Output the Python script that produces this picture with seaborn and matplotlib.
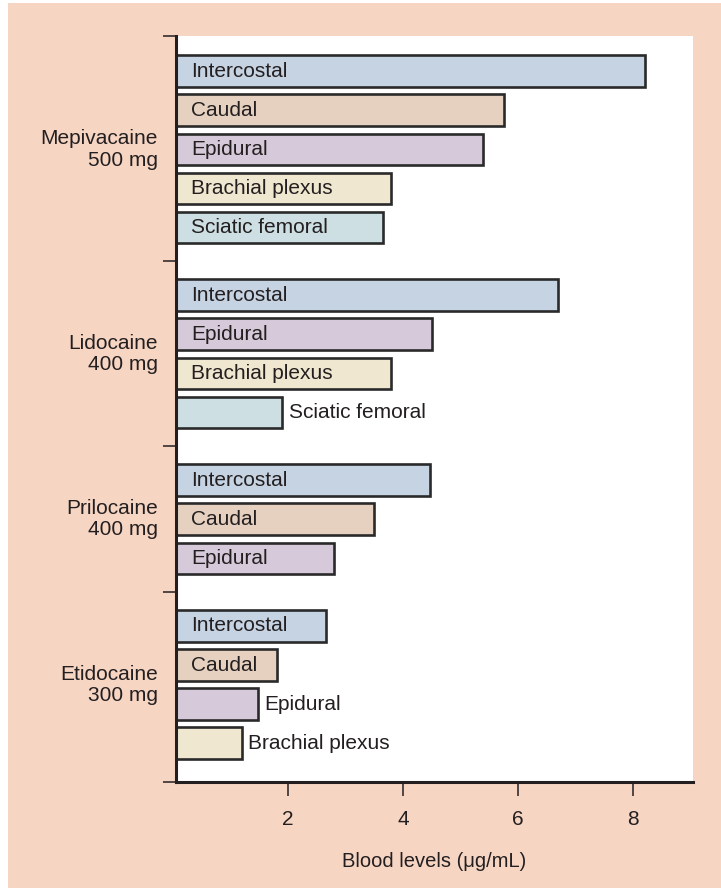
import matplotlib
matplotlib.use("Agg")
import matplotlib.pyplot as plt
import matplotlib.transforms as mtransforms
from matplotlib.patches import Rectangle
import seaborn as sns
import pandas as pd

# ---------------- data ----------------
drugs = ["Mepivacaine\n500 mg", "Lidocaine\n400 mg", "Prilocaine\n400 mg", "Etidocaine\n300 mg"]

mepivacaine_routes = ["Intercostal", "Caudal", "Epidural", "Brachial plexus", "Sciatic femoral"]
mepivacaine_levels = [8.2, 5.76, 5.38, 3.79, 3.65]

lidocaine_routes = ["Intercostal", "Epidural", "Brachial plexus", "Sciatic femoral"]
lidocaine_levels = [6.7, 4.5, 3.79, 1.9]

prilocaine_routes = ["Intercostal", "Caudal", "Epidural"]
prilocaine_levels = [4.46, 3.5, 2.8]

etidocaine_routes = ["Intercostal", "Caudal", "Epidural", "Brachial plexus"]
etidocaine_levels = [2.66, 1.81, 1.48, 1.2]

x_ticks = [2, 4, 6, 8]
x_label = "Blood levels (\u03bcg/mL)"

route_colors = {
    "Intercostal": "#C1D3E8",
    "Caudal": "#ECD0BA",
    "Epidural": "#D8C6DC",
    "Brachial plexus": "#F4EACA",
    "Sciatic femoral": "#C9E2E6",
}

groups = [
    (drugs[0], mepivacaine_routes, mepivacaine_levels),
    (drugs[1], lidocaine_routes, lidocaine_levels),
    (drugs[2], prilocaine_routes, prilocaine_levels),
    (drugs[3], etidocaine_routes, etidocaine_levels),
]

# ---------------- layout of rows ----------------
GROUP_GAP = 0.73
rows = []
pos = 0.0
separators = []
for gi, (drug, routes, levels) in enumerate(groups):
    if gi > 0:
        pos += GROUP_GAP
        separators.append(pos - (1 + GROUP_GAP) / 2)
    for r, v in zip(routes, levels):
        rows.append({"drug": drug, "route": r, "level": v, "pos": round(pos, 4)})
        pos += 1
df = pd.DataFrame(rows)

y_top = -0.9
y_bottom = df["pos"].max() + 0.99

# ---------------- figure ----------------
BG = "#F7D5C3"
TXT = "#231F20"
sns.set_theme(style="white")
plt.rcParams["font.family"] = ["Liberation Sans", "DejaVu Sans"]

fig = plt.figure(figsize=(7.21, 8.88), dpi=100, facecolor="white")
fig.patches.append(Rectangle((8 / 721, 0), 1, 1 - 3 / 888, transform=fig.transFigure,
                             facecolor=BG, edgecolor="none", zorder=-10))
ax = fig.add_axes([176 / 721, 1 - 782 / 888, (693 - 176) / 721, (782 - 36) / 888])
ax.set_facecolor("white")

sns.barplot(data=df, x="level", y="pos", hue="route", palette=route_colors,
            orient="h", native_scale=True, dodge=False, width=0.81,
            edgecolor="#2A2A2A", linewidth=1.9, legend=False, ax=ax)

ax.set_xlim(0.05, 9.04)
ax.set_ylim(y_bottom, y_top)

for s in ["top", "right"]:
    ax.spines[s].set_visible(False)
for s in ["left", "bottom"]:
    ax.spines[s].set_visible(True)
    ax.spines[s].set_color(TXT)
    ax.spines[s].set_linewidth(2.2)

ax.set_xticks(x_ticks)
ax.set_xticklabels([str(t) for t in x_ticks])
ax.set_yticks([y_top] + separators + [y_bottom])
ax.set_yticklabels([])
ax.tick_params(axis="x", direction="out", length=10, width=1.1, color=TXT,
               pad=10, labelsize=15, labelcolor=TXT, bottom=True)
ax.tick_params(axis="y", direction="out", length=9.5, width=1.1, color=TXT, left=True)
ax.set_ylabel("")
ax.set_xlabel(x_label, fontsize=14.5, color=TXT)
ax.xaxis.set_label_coords(0.5, -0.094)

# group labels
blend = mtransforms.blended_transform_factory(ax.transAxes, ax.transData)
for drug in drugs:
    center = df.loc[df["drug"] == drug, "pos"].mean()
    ax.text(-0.035, center, drug, transform=blend, ha="right", va="center",
            multialignment="right", fontsize=15, color=TXT, linespacing=1.15)

# bar labels: inside when they fit, otherwise just after the bar end
fig.canvas.draw()
renderer = fig.canvas.get_renderer()
for _, row in df.iterrows():
    t = ax.annotate(row["route"], xy=(0.05, row["pos"]), xytext=(11, 0),
                    textcoords="offset points", ha="left", va="center",
                    fontsize=15, color=TXT)
    bb = t.get_window_extent(renderer)
    end_px = ax.transData.transform((row["level"], row["pos"]))[0]
    if bb.x1 + 4 > end_px:
        t.xy = (row["level"], row["pos"])
        t.set_position((4.5, 0))

fig.savefig("out.png", dpi=100, facecolor=fig.get_facecolor())
